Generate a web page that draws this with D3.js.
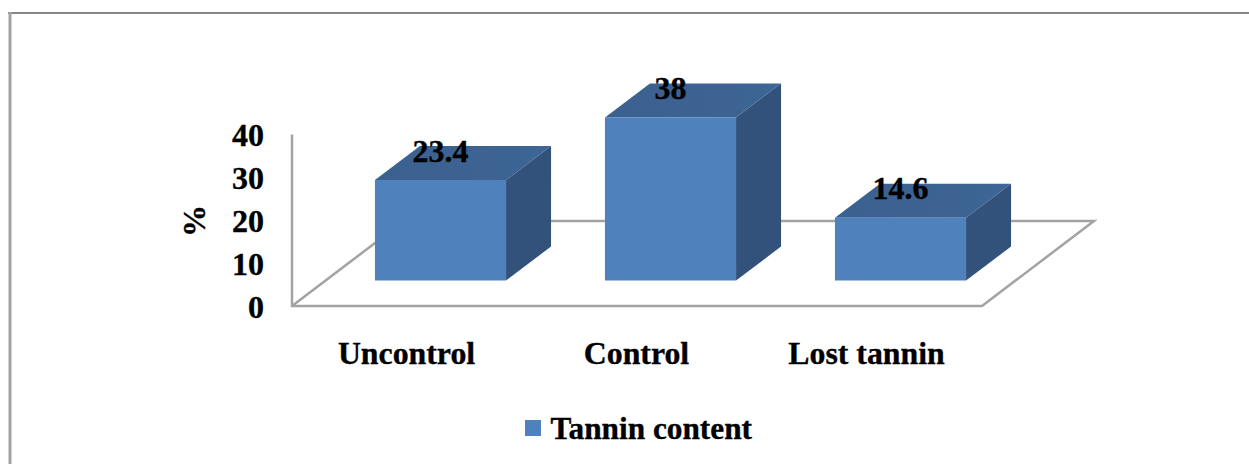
<!DOCTYPE html>
<html>
<head>
<meta charset="utf-8">
<script src="https://cdn.jsdelivr.net/npm/d3@7"></script>
<style>
html,body{margin:0;padding:0;background:#fff;overflow:hidden}
svg{display:block}
text{font-family:"Liberation Serif",serif;font-weight:700;fill:#000;stroke:#000;stroke-width:0.35px}
</style>
</head>
<body>
<svg id="c" width="1249" height="464"></svg>
<script>
const categories = ["Uncontrol", "Control", "Lost tannin"];
const seriesName = "Tannin content";
const seriesValues = [23.4, 38, 14.6];
const yTicks = [0, 10, 20, 30, 40];
const yLabel = "%";

const svg = d3.select("#c");

// frame (no right or bottom edge in the reference)
svg.append("line").attr("x1", 8).attr("x2", 1249).attr("y1", 13).attr("y2", 13)
  .attr("stroke", "#868686").attr("stroke-width", 2);
svg.append("line").attr("x1", 10).attr("x2", 10).attr("y1", 12).attr("y2", 464)
  .attr("stroke", "#a3a3a3").attr("stroke-width", 3);

const x0 = 292, x1 = 982, yBase = 306, yMax = 134.4;
const x = d3.scaleBand().domain(categories).range([x0, x1]).paddingInner(0.43).paddingOuter(0.215);
const y = d3.scaleLinear().domain([0, 40]).range([yBase, yMax]);

// 3D projection offsets
const floorDX = 112, floorDY = -85;
const barDX = 45, barDY = -34;
const offX = (floorDX - barDX) / 2, offY = (floorDY - barDY) / 2;

const line = d3.line();
const gridColor = "#a3a3a3";

// floor and back wall axis
svg.append("path")
  .attr("d", line([[x0, y(40)], [x0, yBase], [x1, yBase], [x1 + floorDX, yBase + floorDY], [x0 + floorDX, yBase + floorDY], [x0, yBase]]))
  .attr("fill", "none").attr("stroke", gridColor).attr("stroke-width", 2.5);

const defs = svg.append("defs");
const g1 = defs.append("linearGradient").attr("id", "topG");
g1.append("stop").attr("offset", "0%").attr("stop-color", "#3a618f");
g1.append("stop").attr("offset", "70%").attr("stop-color", "#3c6391");
g1.append("stop").attr("offset", "100%").attr("stop-color", "#3e6797");

const bars = svg.append("g").selectAll("g")
  .data(categories.map((c, i) => ({ c, v: seriesValues[i] })))
  .join("g");

function geo(d) {
  const l = x(d.c) + offX, r = l + x.bandwidth();
  const b = yBase + offY, t = y(d.v) + offY;
  return { l, r, b, t };
}
bars.append("path").attr("fill", "url(#topG)")
  .attr("d", d => { const g = geo(d); return line([[g.l, g.t], [g.r, g.t], [g.r + barDX, g.t + barDY], [g.l + barDX, g.t + barDY]]) + "Z"; });
bars.append("path").attr("fill", "#32527b")
  .attr("d", d => { const g = geo(d); return line([[g.r, g.t], [g.r + barDX, g.t + barDY], [g.r + barDX, g.b + barDY], [g.r, g.b]]) + "Z"; });
bars.append("path").attr("fill", "#4f81bd")
  .attr("d", d => { const g = geo(d); return line([[g.l, g.t], [g.r, g.t], [g.r, g.b], [g.l, g.b]]) + "Z"; });

// data labels
bars.append("text").attr("text-anchor", "middle").attr("font-size", 32)
  .attr("x", d => { const g = geo(d); return (g.l + g.r) / 2; })
  .attr("y", d => geo(d).t - 18.5)
  .text(d => d.v);

// y axis labels
const yAxis = svg.append("g").attr("transform", `translate(${x0},0)`)
  .call(d3.axisLeft(y).tickValues(yTicks).tickSize(0).tickPadding(28));
yAxis.select(".domain").remove();
yAxis.selectAll("text").attr("font-size", 32).attr("dy", null).attr("y", 11);
yAxis.attr("font-family", null).attr("font-size", null);

// x axis labels
const xAxis = svg.append("g").attr("transform", `translate(0,${yBase})`)
  .call(d3.axisBottom(x).tickSize(0).tickPadding(0));
xAxis.select(".domain").remove();
xAxis.selectAll("text").attr("font-size", 31.8).attr("dy", null).attr("y", 58).attr("x", -0.5);
xAxis.attr("font-family", null).attr("font-size", null);

// y axis title
svg.append("text").attr("font-size", 32).attr("text-anchor", "middle")
  .attr("transform", "translate(204.5,221) rotate(-90)").text(yLabel);

// legend
svg.append("rect").attr("x", 525).attr("y", 420).attr("width", 16).attr("height", 16).attr("fill", "#4f81bd");
svg.append("text").attr("x", 550.5).attr("y", 439).attr("font-size", 31.3).text(seriesName);
</script>
</body>
</html>
